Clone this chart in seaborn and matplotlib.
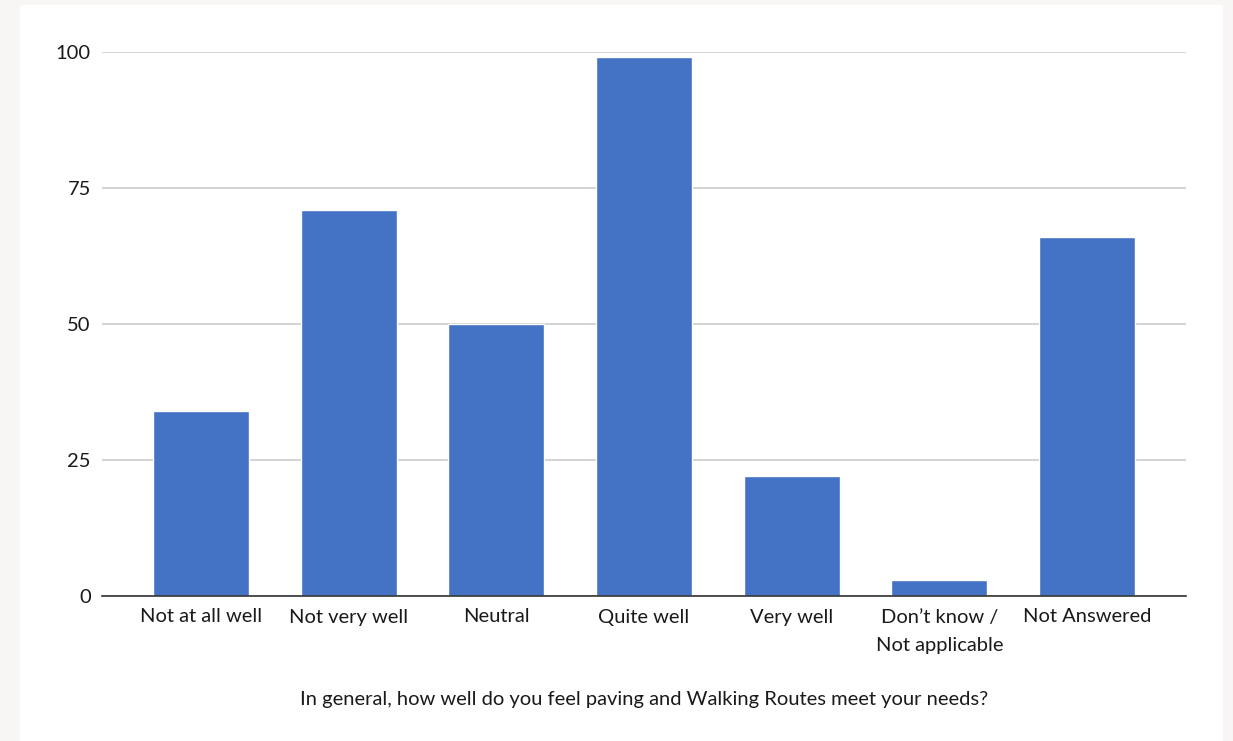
import matplotlib
matplotlib.use("Agg")
import matplotlib.pyplot as plt
from matplotlib.patches import Rectangle
import seaborn as sns
import pandas as pd

categories = ["Not at all well", "Not very well", "Neutral", "Quite well",
              "Very well", "Don\u2019t know /\nNot applicable", "Not Answered"]
counts = [34, 71, 50, 99, 22, 3, 66]
y_ticks = [0, 25, 50, 75, 100]
x_title = "In general, how well do you feel paving and Walking Routes meet your needs?"

df = pd.DataFrame({"category": categories, "count": counts})

sns.set_theme(style="white")
plt.rcParams["font.family"] = ["Lato", "DejaVu Sans"]

fig = plt.figure(figsize=(12.33, 7.41), dpi=100)
fig.patch.set_facecolor("#f7f6f4")
# white card behind the chart
fig.patches.append(Rectangle((20 / 1233, 0), 1203 / 1233, 736 / 741,
                             transform=fig.transFigure, facecolor="white",
                             edgecolor="none", zorder=-10))

ax = fig.add_axes([102 / 1233, 1 - 596 / 741, 1084 / 1233, 544 / 741])
ax.set_zorder(1)
ax.set_facecolor("none")

sns.barplot(data=df, x="category", y="count", color="#4472c4",
            width=0.65, saturation=1, ax=ax, zorder=3)

ax.set_xlim(-0.67, 6.67)
ax.set_ylim(0, 100)
ax.set_yticks(y_ticks)
ax.yaxis.grid(True, color="#cccccc", linewidth=1.2, zorder=0)
ax.set_axisbelow(True)
for side in ["top", "right", "left"]:
    ax.spines[side].set_visible(False)
ax.spines["bottom"].set_color("#333333")
ax.spines["bottom"].set_linewidth(1.2)
ax.spines["bottom"].set_zorder(4)

ax.tick_params(axis="y", length=0, pad=8, labelsize=14.5, labelcolor="#1a1a1a")
ax.tick_params(axis="x", length=0, pad=9, labelsize=14.5, labelcolor="#1a1a1a")
for lbl in ax.get_xticklabels():
    if "\n" in lbl.get_text():
        lbl.set_linespacing(1.85)
ax.set_ylabel("")
ax.set_xlabel(x_title, fontsize=14.5, color="#1a1a1a", labelpad=26)

fig.savefig("out.png", dpi=100, facecolor=fig.get_facecolor())
